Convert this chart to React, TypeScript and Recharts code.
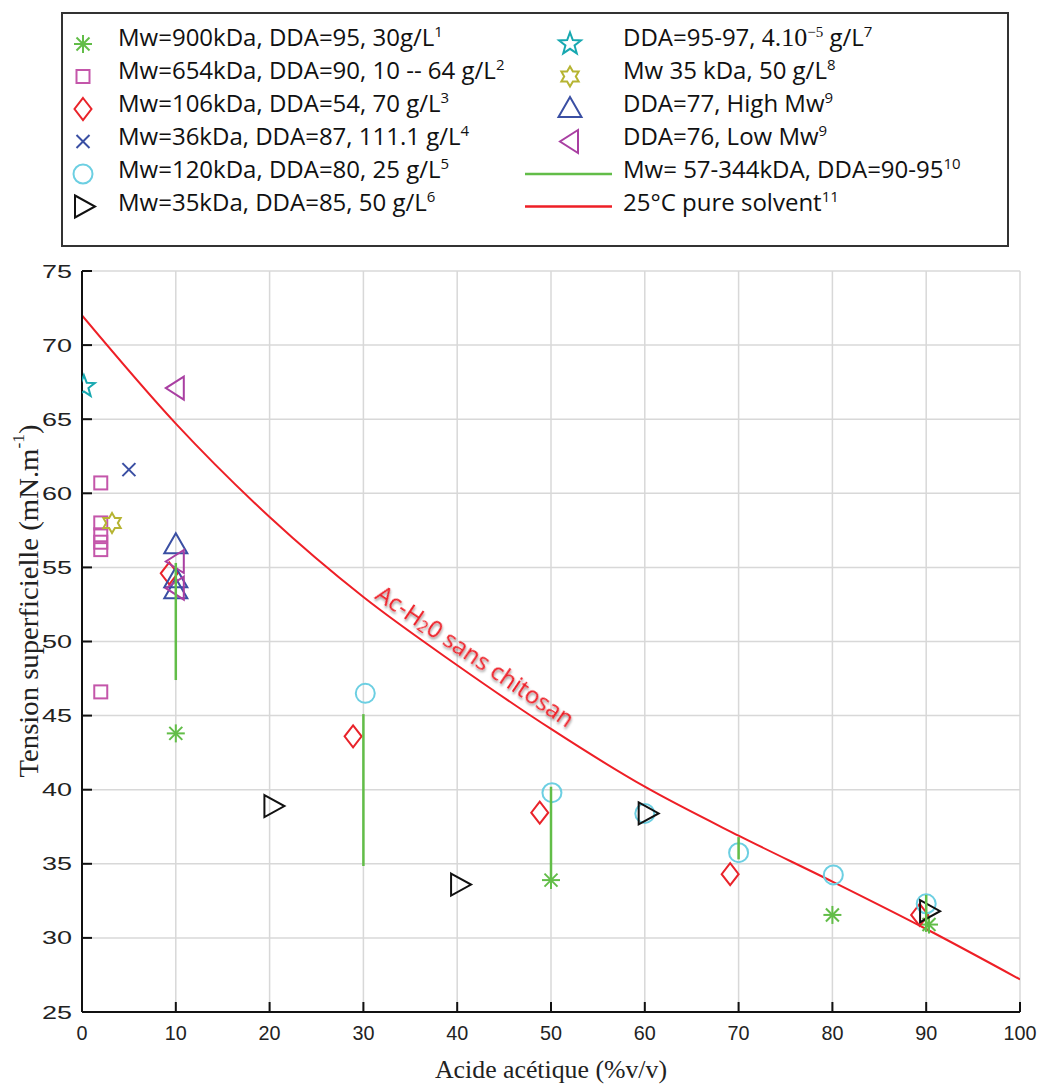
import React from 'react';
import { ComposedChart, Scatter, Line, XAxis, YAxis, CartesianGrid } from 'recharts';

// axes
const xTicks = [0, 10, 20, 30, 40, 50, 60, 70, 80, 90, 100];
const yTicks = [25, 30, 35, 40, 45, 50, 55, 60, 65, 70, 75];

// measured points (x = % acetic acid, y = surface tension mN/m)
const mw900 = [
  { x: 10, y: 43.8 },
  { x: 50, y: 33.9 },
  { x: 80, y: 31.55 },
  { x: 90.3, y: 30.9 },
];
const mw654 = [
  { x: 2, y: 60.7 },
  { x: 2, y: 58.0 },
  { x: 2, y: 57.2 },
  { x: 2, y: 56.7 },
  { x: 2, y: 56.2 },
  { x: 2, y: 46.6 },
];
const mw106 = [
  { x: 9.3, y: 54.6 },
  { x: 28.9, y: 43.6 },
  { x: 48.8, y: 38.45 },
  { x: 69.1, y: 34.3 },
  { x: 89.3, y: 31.55 },
];
const mw36 = [{ x: 5, y: 61.6 }];
const mw120 = [
  { x: 30.2, y: 46.5 },
  { x: 50.1, y: 39.8 },
  { x: 60, y: 38.4 },
  { x: 70, y: 35.75 },
  { x: 80.1, y: 34.25 },
  { x: 90, y: 32.3 },
];
const mw35 = [
  { x: 20.3, y: 38.9 },
  { x: 40.2, y: 33.6 },
  { x: 60.2, y: 38.4 },
  { x: 90.2, y: 31.8 },
];
const dda95 = [{ x: 0.2, y: 67.2 }];
const mw35b = [{ x: 3.2, y: 58.0 }];
const dda77High = [
  { x: 10, y: 56.5 },
  { x: 10, y: 54.2 },
  { x: 10, y: 53.45 },
];
const dda76Low = [
  { x: 10, y: 67.1 },
  { x: 10, y: 55.4 },
  { x: 10, y: 53.6 },
];

// ranges Mw 57-344 kDa (vertical bars)
const rangeX = [10, 30, 50, 70, 90];
const rangeTop = [55.3, 45.1, 40.2, 36.8, 32.9];
const rangeBottom = [47.4, 34.85, 33.9, 35.3, 30.4];

// pure solvent at 25 °C
const solventX = [0, 10, 20, 30, 40, 50, 60, 70, 80, 90, 100];
const solventY = [72, 64.7, 58.4, 53.0, 48.4, 44.1, 40.2, 36.9, 33.8, 30.6, 27.2];

const curveLabelAt = [{ x: 42, y: 49.1 }];

const GREEN = '#62bd48';
const MAGENTA_SQ = '#c456aa';
const RED = '#e9232a';
const BLUE = '#3a4fa3';
const CYAN = '#6ccfe2';
const BLACK = '#111111';
const TEAL = '#17a8b0';
const OLIVE = '#b6b432';
const PURPLE = '#a93fa2';
const LINE_RED = '#ee1f26';

type Kind =
  | 'asterisk'
  | 'square'
  | 'diamond'
  | 'cross'
  | 'circle'
  | 'triRight'
  | 'pentagram'
  | 'hexagram'
  | 'triUp'
  | 'triLeft';

const starPoints = (cx: number, cy: number, n: number, ro: number, ri: number) => {
  const pts: string[] = [];
  for (let i = 0; i < n * 2; i++) {
    const r = i % 2 === 0 ? ro : ri;
    const a = -Math.PI / 2 + (i * Math.PI) / n;
    pts.push(`${cx + r * Math.cos(a)},${cy + r * Math.sin(a)}`);
  }
  return pts.join(' ');
};

const Marker = ({ kind, cx, cy, color }: { kind: Kind; cx: number; cy: number; color: string }) => {
  const common = { fill: 'none', stroke: color, strokeWidth: 2 };
  switch (kind) {
    case 'asterisk':
      return (
        <g {...common}>
          <line x1={cx - 9} x2={cx + 9} y1={cy} y2={cy} />
          <line x1={cx} x2={cx} y1={cy - 9} y2={cy + 9} />
          <line x1={cx - 6.5} x2={cx + 6.5} y1={cy - 6.5} y2={cy + 6.5} />
          <line x1={cx - 6.5} x2={cx + 6.5} y1={cy + 6.5} y2={cy - 6.5} />
        </g>
      );
    case 'square':
      return <rect x={cx - 6.5} y={cy - 6.5} width={13} height={13} {...common} />;
    case 'diamond':
      return <polygon points={`${cx},${cy - 11} ${cx + 8.5},${cy} ${cx},${cy + 11} ${cx - 8.5},${cy}`} {...common} />;
    case 'cross':
      return (
        <g {...common}>
          <line x1={cx - 6.5} x2={cx + 6.5} y1={cy - 6.5} y2={cy + 6.5} />
          <line x1={cx - 6.5} x2={cx + 6.5} y1={cy + 6.5} y2={cy - 6.5} />
        </g>
      );
    case 'circle':
      return <circle cx={cx} cy={cy} r={9.5} {...common} />;
    case 'triRight':
      return <polygon points={`${cx - 8},${cy - 11} ${cx + 12},${cy} ${cx - 8},${cy + 11}`} {...common} />;
    case 'triLeft':
      return <polygon points={`${cx + 8},${cy - 11.5} ${cx - 10},${cy} ${cx + 8},${cy + 11.5}`} {...common} />;
    case 'triUp':
      return <polygon points={`${cx},${cy - 12} ${cx + 11.5},${cy + 8} ${cx - 11.5},${cy + 8}`} {...common} />;
    case 'pentagram':
      return <polygon points={starPoints(cx, cy, 5, 11.5, 4.8)} {...common} />;
    case 'hexagram':
      return <polygon points={starPoints(cx, cy, 6, 10, 5.8)} {...common} />;
  }
  return null;
};

const series: { key: string; kind: Kind; color: string; data: { x: number; y: number }[] }[] = [
  { key: 'mw900', kind: 'asterisk', color: GREEN, data: mw900 },
  { key: 'mw654', kind: 'square', color: MAGENTA_SQ, data: mw654 },
  { key: 'mw106', kind: 'diamond', color: RED, data: mw106 },
  { key: 'mw36', kind: 'cross', color: BLUE, data: mw36 },
  { key: 'mw120', kind: 'circle', color: CYAN, data: mw120 },
  { key: 'mw35', kind: 'triRight', color: BLACK, data: mw35 },
  { key: 'dda95', kind: 'pentagram', color: TEAL, data: dda95 },
  { key: 'mw35b', kind: 'hexagram', color: OLIVE, data: mw35b },
  { key: 'dda77', kind: 'triUp', color: BLUE, data: dda77High },
  { key: 'dda76', kind: 'triLeft', color: PURPLE, data: dda76Low },
];

type Seg = { t: string; sup?: boolean; serif?: boolean };

const leftLegend: { kind: Kind; color: string; label: Seg[] }[] = [
  { kind: 'asterisk', color: GREEN, label: [{ t: 'Mw=900kDa, DDA=95, 30g/L' }, { t: '1', sup: true }] },
  { kind: 'square', color: MAGENTA_SQ, label: [{ t: 'Mw=654kDa, DDA=90, 10 -- 64 g/L' }, { t: '2', sup: true }] },
  { kind: 'diamond', color: RED, label: [{ t: 'Mw=106kDa, DDA=54, 70 g/L' }, { t: '3', sup: true }] },
  { kind: 'cross', color: BLUE, label: [{ t: 'Mw=36kDa, DDA=87, 111.1 g/L' }, { t: '4', sup: true }] },
  { kind: 'circle', color: CYAN, label: [{ t: 'Mw=120kDa, DDA=80, 25 g/L' }, { t: '5', sup: true }] },
  { kind: 'triRight', color: BLACK, label: [{ t: 'Mw=35kDa, DDA=85, 50 g/L' }, { t: '6', sup: true }] },
];

const rightLegend: { kind: Kind | 'line'; color: string; label: Seg[] }[] = [
  {
    kind: 'pentagram',
    color: TEAL,
    label: [
      { t: 'DDA=95-97, ' },
      { t: '4.10', serif: true },
      { t: '\u22125', sup: true, serif: true },
      { t: ' g/L' },
      { t: '7', sup: true },
    ],
  },
  { kind: 'hexagram', color: OLIVE, label: [{ t: 'Mw 35 kDa, 50 g/L' }, { t: '8', sup: true }] },
  { kind: 'triUp', color: BLUE, label: [{ t: 'DDA=77, High Mw' }, { t: '9', sup: true }] },
  { kind: 'triLeft', color: PURPLE, label: [{ t: 'DDA=76, Low Mw' }, { t: '9', sup: true }] },
  { kind: 'line', color: GREEN, label: [{ t: 'Mw= 57-344kDA, DDA=90-95' }, { t: '10', sup: true }] },
  { kind: 'line', color: LINE_RED, label: [{ t: '25°C pure solvent' }, { t: '11', sup: true }] },
];

const renderSegs = (segs: Seg[]) => {
  let lifted = false;
  return segs.map((s, i) => {
    const dy = s.sup ? (lifted ? 0 : -9) : lifted ? 9 : 0;
    lifted = !!s.sup;
    return (
      <tspan
        key={i}
        dy={dy}
        fontSize={s.sup ? 15 : s.serif ? 26 : undefined}
        fontFamily={s.serif ? "'Liberation Serif', serif" : undefined}
      >
        {s.t}
      </tspan>
    );
  });
};

const YTick = (props: any) => {
  const { x, y, payload } = props;
  const s = String(payload.value);
  return (
    <g>
      <line x1={x} x2={x + 10} y1={y} y2={y} stroke={BLACK} strokeWidth={2} />
      <text
        x={x - 10}
        y={y}
        textAnchor="end"
        dominantBaseline="central"
        fontSize={19}
        fontFamily="'Liberation Sans', Arial, sans-serif"
        fill="#222"
        textLength={s.length * 15}
        lengthAdjust="spacingAndGlyphs"
      >
        {s}
      </text>
    </g>
  );
};

const XTick = (props: any) => {
  const { x, y, payload } = props;
  const s = String(payload.value);
  return (
    <g>
      <line x1={x} x2={x} y1={y} y2={y - 10} stroke={BLACK} strokeWidth={2} />
      <text
        x={x}
        y={y + 20}
        textAnchor="middle"
        dominantBaseline="central"
        fontSize={21}
        fontFamily="'Liberation Sans', Arial, sans-serif"
        fill="#222"
        textLength={s.length * 11}
        lengthAdjust="spacingAndGlyphs"
      >
        {s}
      </text>
    </g>
  );
};

const CurveLabel = (props: any) => {
  const { cx, cy } = props;
  if (cx == null || cy == null) return <g />;
  return (
    <text
      transform={`translate(${cx},${cy}) rotate(34)`}
      textAnchor="middle"
      dominantBaseline="central"
      fontSize={24}
      fontFamily="'Open Sans', sans-serif"
      fill={LINE_RED}
      filter="url(#softShadow)"
    >
      Ac-H
      <tspan dy={6} fontSize={16}>
        2
      </tspan>
      <tspan dy={-6}>0 sans chitosan</tspan>
    </text>
  );
};

const App = () => {
  const solvent = solventX.map((x, i) => ({ x, y: solventY[i] }));
  const ranges = rangeX.map((x, i) => [
    { x, y: rangeTop[i] },
    { x, y: rangeBottom[i] },
  ]);
  const font = "'Open Sans', sans-serif";

  return (
    <div style={{ position: 'absolute', left: 0, top: 0, width: 1039, height: 1085, background: '#fff' }}>
      <ComposedChart width={1039} height={1085} margin={{ top: 271, right: 19, bottom: 33, left: 32 }}>
        <defs>
          <filter id="softShadow" x="-10%" y="-30%" width="120%" height="160%">
            <feDropShadow dx={1.5} dy={1.5} stdDeviation={1.2} floodColor="#000" floodOpacity={0.45} />
          </filter>
        </defs>
        <CartesianGrid stroke="#d8d8d8" strokeWidth={1.5} />
        <XAxis
          type="number"
          dataKey="x"
          domain={[0, 100]}
          ticks={xTicks}
          allowDataOverflow
          height={40}
          tickSize={0}
          tickMargin={0}
          tickLine={false}
          axisLine={{ stroke: BLACK, strokeWidth: 2 }}
          tick={<XTick />}
          interval={0}
        />
        <YAxis
          type="number"
          dataKey="y"
          domain={[25, 75]}
          ticks={yTicks}
          allowDataOverflow
          width={50}
          tickSize={0}
          tickMargin={0}
          tickLine={false}
          axisLine={{ stroke: BLACK, strokeWidth: 2 }}
          tick={<YTick />}
          interval={0}
        />
        {series.map((s) => (
          <Scatter
            key={s.key}
            name={s.key}
            data={s.data}
            isAnimationActive={false}
            shape={(p: any) => <Marker kind={s.kind} cx={p.cx} cy={p.cy} color={s.color} />}
          />
        ))}
        {ranges.map((r, i) => (
          <Scatter
            key={`range-${i}`}
            data={r}
            isAnimationActive={false}
            line={{ stroke: GREEN, strokeWidth: 2.5 }}
            shape={() => <g />}
          />
        ))}
        <Line
          data={solvent}
          dataKey="y"
          type="monotone"
          stroke={LINE_RED}
          strokeWidth={2}
          dot={false}
          activeDot={false}
          isAnimationActive={false}
        />
        <Scatter data={curveLabelAt} isAnimationActive={false} shape={(p: any) => <CurveLabel {...p} />} />
      </ComposedChart>

      <svg
        width={1039}
        height={1085}
        style={{ position: 'absolute', left: 0, top: 0, pointerEvents: 'none' }}
      >
        <rect x={62} y={13} width={946} height={233} fill="none" stroke="#333" strokeWidth={2} />
        {leftLegend.map((e, i) => (
          <g key={`l-${i}`}>
            <Marker kind={e.kind} cx={83} cy={44 + i * 32.5} color={e.color} />
            <text x={118} y={46 + i * 33} fontSize={24} fontFamily={font} fill="#111">
              {renderSegs(e.label)}
            </text>
          </g>
        ))}
        {rightLegend.map((e, i) => (
          <g key={`r-${i}`}>
            {e.kind === 'line' ? (
              <line x1={525} x2={612} y1={44 + i * 32.5} y2={44 + i * 32.5} stroke={e.color} strokeWidth={2.5} />
            ) : (
              <Marker kind={e.kind} cx={570} cy={44 + i * 32.5} color={e.color} />
            )}
            <text x={623} y={46 + i * 33} fontSize={24} fontFamily={font} fill="#111">
              {renderSegs(e.label)}
            </text>
          </g>
        ))}
        <text
          x={551}
          y={1069}
          textAnchor="middle"
          dominantBaseline="central"
          fontSize={26}
          fontFamily="'Liberation Serif', serif"
          fill="#222"
          textLength={232}
          lengthAdjust="spacingAndGlyphs"
        >
          Acide acétique (%v/v)
        </text>
        <text
          transform="translate(28,601) rotate(-90)"
          textAnchor="middle"
          dominantBaseline="central"
          fontSize={28}
          fontFamily="'Liberation Serif', serif"
          fill="#222"
          textLength={353}
          lengthAdjust="spacingAndGlyphs"
        >
          Tension superficielle (mN.m
          <tspan dy={-10} fontSize={17}>
            -1
          </tspan>
          <tspan dy={10}>)</tspan>
        </text>
      </svg>
    </div>
  );
};

export default App;
